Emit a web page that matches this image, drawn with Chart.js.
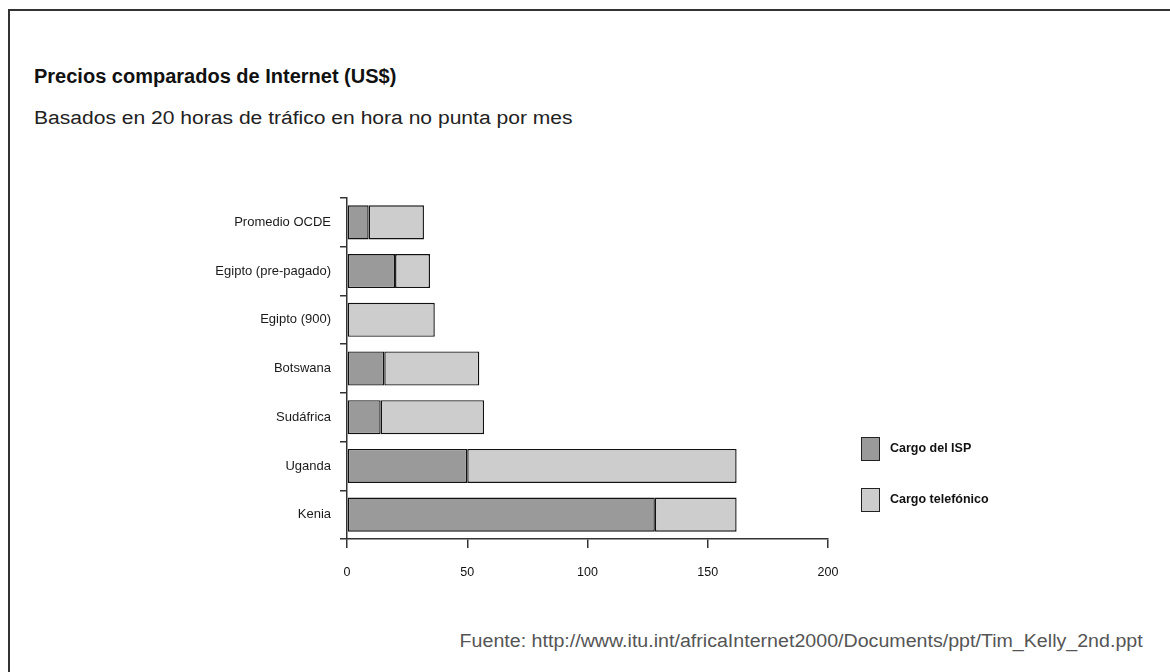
<!DOCTYPE html>
<html>
<head>
<meta charset="utf-8">
<script src="https://cdn.jsdelivr.net/npm/chart.js@4.4.0/dist/chart.umd.min.js"></script>
<style>
  body { margin: 0; background: #fff; font-family: "Liberation Sans", Arial, sans-serif; }
  #wrap { position: relative; width: 1170px; height: 672px; overflow: hidden; }
  #frame { position: absolute; left: 8px; top: 9px; width: 1200px; height: 700px; border-left: 2px solid #333; border-top: 2px solid #333; }
  .txt { position: absolute; line-height: 1; white-space: nowrap; }
  #title { left: 34px; top: 66px; font-size: 20px; font-weight: bold; color: #111; }
  #sub { left: 34px; top: 109px; font-size: 18px; color: #222; transform: scaleX(1.17); transform-origin: left top; }
  #src { right: 27px; top: 632px; font-size: 18px; color: #555; transform: scaleX(1.09); transform-origin: right top; }
  #box { position: absolute; left: 0; top: 0; width: 1170px; height: 672px; }
</style>
</head>
<body>
<div id="wrap">
  <div id="frame"></div>
  <div class="txt" id="title">Precios comparados de Internet (US$)</div>
  <div class="txt" id="sub">Basados en 20 horas de tráfico en hora no punta por mes</div>
  <div class="txt" id="src">Fuente: http://www.itu.int/africaInternet2000/Documents/ppt/Tim_Kelly_2nd.ppt</div>
  <div id="box"><canvas id="myChart"></canvas></div>
</div>
<script>
const paises = ['Promedio OCDE', 'Egipto (pre-pagado)', 'Egipto (900)', 'Botswana', 'Sudáfrica', 'Uganda', 'Kenia'];
const cargoISP = [9, 20, 0, 15.5, 14, 50, 128];
const cargoTel = [23, 14.5, 36.5, 39.5, 43, 112, 34];
const ticksX = [0, 50, 100, 150, 200];

const ctx = document.getElementById('myChart').getContext('2d');

// leyenda dibujada a mano, a la derecha
const leyenda = {
    id: 'leyenda',
    afterDraw(chart) {
        const c = chart.ctx;
        c.save();
        chart.data.datasets.forEach((ds, i) => {
            const y = 437 + i * 51;
            c.fillStyle = ds.backgroundColor;
            c.fillRect(861, y, 19, 24);
            c.strokeStyle = '#222';
            c.lineWidth = 1;
            c.strokeRect(861.5, y + 0.5, 18, 23);
            c.fillStyle = '#111';
            c.font = 'bold 12.5px "Liberation Sans", Arial, sans-serif';
            c.textBaseline = 'middle';
            c.fillText(ds.label, 890, y + 12);
        });
        c.restore();
    }
};

const config = {
    type: 'bar',
    data: {
        labels: paises,
        datasets: [
            {
                label: 'Cargo del ISP',
                data: cargoISP,
                backgroundColor: '#9a9a9a',
                borderColor: '#111',
                borderWidth: 1.4,
                borderSkipped: false
            },
            {
                label: 'Cargo telefónico',
                data: cargoTel,
                backgroundColor: '#cdcdcd',
                borderColor: '#111',
                borderWidth: 1.4,
                borderSkipped: false
            }
        ]
    },
    options: {
        indexAxis: 'y',
        responsive: true,
        maintainAspectRatio: false,
        animation: false,
        layout: { padding: { left: 0, top: 198, right: 342, bottom: 83 } },
        datasets: { bar: { barPercentage: 0.7, categoryPercentage: 1 } },
        plugins: {
            legend: { display: false },
            tooltip: { enabled: false }
        },
        scales: {
            x: {
                stacked: true,
                min: 0,
                max: 200,
                afterBuildTicks: s => { s.ticks = ticksX.map(v => ({ value: v })); },
                afterFit: s => { s.height = 50; },
                border: { display: true, color: '#333', width: 1.5 },
                grid: { drawOnChartArea: false, drawTicks: true, tickLength: 9, color: '#333', lineWidth: 1.5 },
                ticks: { color: '#111', font: { family: '"Liberation Sans", Arial', size: 12.5 }, padding: 17 }
            },
            y: {
                stacked: true,
                afterFit: s => { s.width = 347; },
                border: { display: true, color: '#333', width: 1.5 },
                grid: { offset: true, drawOnChartArea: false, drawTicks: true, tickLength: 7, color: '#333', lineWidth: 1.5 },
                ticks: { color: '#1a1a1a', font: { family: '"Liberation Sans", Arial', size: 13 }, padding: 9 }
            }
        }
    },
    plugins: [leyenda]
};

Chart.defaults.color = '#111';
const precios = new Chart(ctx, config);
</script>
</body>
</html>
